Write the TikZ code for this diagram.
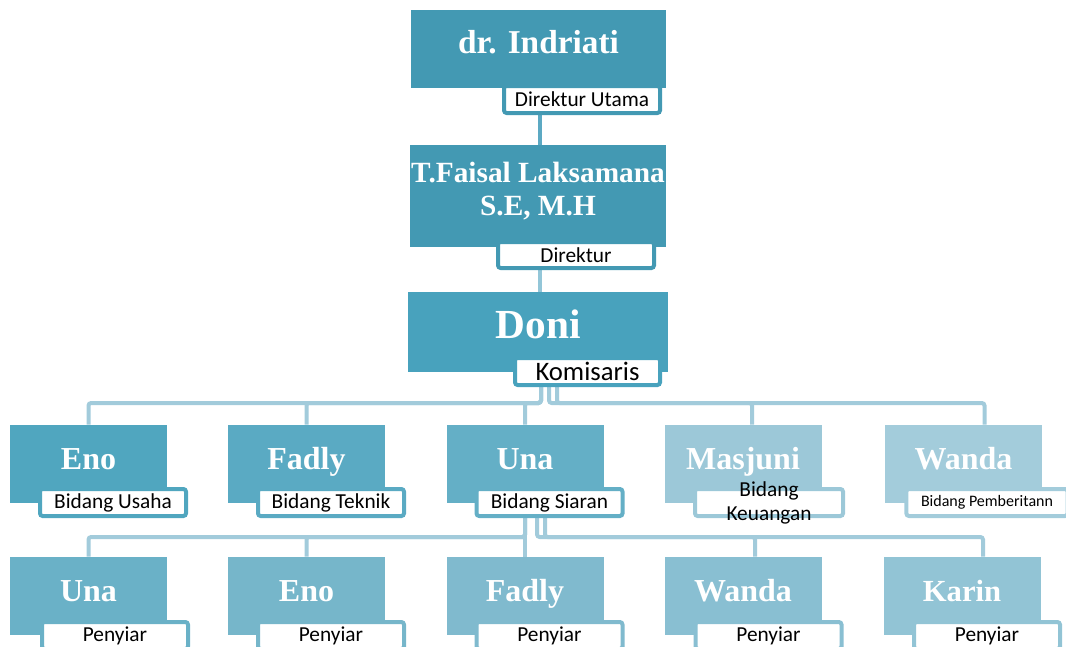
\documentclass[tikz,border=0pt]{standalone}
\usepackage{fontspec}
\setmainfont{Liberation Serif}
\newfontfamily\lblfont{Carlito}
\usetikzlibrary{calc}

\definecolor{boxA}{HTML}{4399B3}
\definecolor{boxB}{HTML}{48A2BD}
\definecolor{boxC}{HTML}{50A6BF}
\definecolor{boxD}{HTML}{5AAAC3}
\definecolor{boxE}{HTML}{64AFC6}
\definecolor{boxF}{HTML}{9CC8D8}
\definecolor{boxG}{HTML}{A3CCDB}
\definecolor{boxH}{HTML}{6AB1C7}
\definecolor{boxI}{HTML}{76B6CA}
\definecolor{boxJ}{HTML}{80BACE}
\definecolor{boxK}{HTML}{89BFD2}
\definecolor{boxL}{HTML}{92C4D5}
\definecolor{linkA}{HTML}{5CA9C3}
\definecolor{linkB}{HTML}{93C6D8}
\definecolor{linkC}{HTML}{A2CBDB}

\tikzset{
  pbox/.style={rectangle, minimum width=117.75pt, minimum height=58.5pt, inner sep=0pt},
  pname/.style={text=white, font=\bfseries\fontsize{24pt}{28pt}\selectfont, inner sep=0pt, text height=0.7em, text depth=0.2em},
  plabel/.style={rectangle, line width=3pt, rounded corners=2pt, fill=white, minimum width=109.5pt, minimum height=20.25pt, inner sep=0pt, font=\lblfont\fontsize{16pt}{19pt}\selectfont},
  plink/.style={draw=linkC, line width=3pt, rounded corners=2pt},
}

\begin{document}
\begin{tikzpicture}[x=0.75pt, y=-0.75pt]
		%%%%% START %%%%%
		\useasboundingbox (0,0) rectangle (1066,646);
		\clip (0,0) rectangle (1066,646);

		% pimpinan
		\node[pbox, fill=boxA, minimum width=191.25pt, minimum height=58.5pt] (indriati) at (538.5,49) {};
		\node[pbox, fill=boxA, minimum width=192pt, minimum height=76.5pt] (faisal) at (538,196) {};
		\node[pbox, fill=boxB, minimum width=195pt, minimum height=60pt] (doni) at (538,332) {};

		% bidang
		\node[pbox, fill=boxC] (eno) at (88.5,464) {};
		\node[pbox, fill=boxD] (fadly) at (306.5,464) {};
		\node[pbox, fill=boxE] (una) at (525,464) {};
		\node[pbox, fill=boxF] (masjuni) at (743,464) {};
		\node[pbox, fill=boxG] (wanda) at (963.5,464) {};

		% penyiar
		\node[pbox, fill=boxH] (unab) at (88.5,596) {};
		\node[pbox, fill=boxI] (enob) at (306.5,596) {};
		\node[pbox, fill=boxJ] (fadlyb) at (525,596) {};
		\node[pbox, fill=boxK] (wandab) at (743,596) {};
		\node[pbox, fill=boxL] (karin) at (962,596) {};

		% names
		\node[pname, font=\bfseries\fontsize{25pt}{30pt}\selectfont] (indriatiname) at ($(indriati.center)+(0,1)$) {dr. Indriati};
		\node[text=white, inner sep=0pt, align=center, font=\bfseries\fontsize{22pt}{25pt}\selectfont] (faisalname) at ($(faisal.center)+(0,-5)$) {T.Faisal Laksamana\\S.E, M.H};
		\node[pname, font=\bfseries\fontsize{31pt}{36pt}\selectfont] (doniname) at ($(doni.center)+(0,3)$) {Doni};
		\node[pname] (enoname) at ($(eno.center)+(0,2)$) {Eno};
		\node[pname] (fadlyname) at ($(fadly.center)+(0,2)$) {Fadly};
		\node[pname] (unaname) at ($(una.center)+(0,2)$) {Una};
		\node[pname] (masjuniname) at ($(masjuni.center)+(0,2)$) {Masjuni};
		\node[pname] (wandaname) at ($(wanda.center)+(0,2)$) {Wanda};
		\node[pname] (unabname) at ($(unab.center)+(0,2)$) {Una};
		\node[pname] (enobname) at ($(enob.center)+(0,2)$) {Eno};
		\node[pname] (fadlybname) at ($(fadlyb.center)+(0,2)$) {Fadly};
		\node[pname] (wandabname) at ($(wandab.center)+(0,2)$) {Wanda};
		\node[pname, font=\bfseries\fontsize{23pt}{28pt}\selectfont] (karinname) at ($(karin.center)+(0,2)$) {Karin};

		% connectors
		\draw[plink, draw=linkA] ($(indriati.south)+(1.5,0)$) -- ($(faisal.north)+(2,0)$);
		\draw[plink, draw=linkB] ($(faisal.south)+(2,0)$) -- ($(doni.north)+(2,0)$);

		\coordinate (busA) at (0,403);
		\coordinate (busB) at (0,537);
		\coordinate (masjunitop) at ($(masjuni.north)+(9,0)$);
		\coordinate (wandatop) at ($(wanda.north)+(21,0)$);
		\draw[plink] ($(doni.south)+(3,0)$) |- (eno.north |- busA) -- (eno.north);
		\draw[plink] ($(doni.south)+(3,0)$) |- (fadly.north |- busA) -- (fadly.north);
		\draw[plink] ($(doni.south)+(3,0)$) |- (una.north |- busA) -- (una.north);
		\draw[plink] ($(doni.south)+(11,0)$) |- (masjunitop |- busA) -- (masjunitop);
		\draw[plink] ($(doni.south)+(19,0)$) |- (wandatop |- busA) -- (wandatop);

		\coordinate (wandabtop) at ($(wandab.north)+(12,0)$);
		\coordinate (karintop) at ($(karin.north)+(21,0)$);
		\draw[plink] (una.south) |- (unab.north |- busB) -- (unab.north);
		\draw[plink] (una.south) |- (enob.north |- busB) -- (enob.north);
		\draw[plink] (una.south) -- (fadlyb.north);
		\draw[plink] ($(una.south)+(12,0)$) |- (wandabtop |- busB) -- (wandabtop);
		\draw[plink] ($(una.south)+(20,0)$) |- (karintop |- busB) -- (karintop);

		% jabatan
		\node[plabel, draw=boxA, minimum width=117pt] (indriatilab) at (582,99.5) {Direktur Utama};
		\node[plabel, draw=boxA, minimum width=117pt, minimum height=19.5pt] (faisallab) at (576,255) {Direktur};
		\node[plabel, draw=boxB, minimum width=108.75pt, font=\lblfont\fontsize{20pt}{24pt}\selectfont] (donilab) at (587.5,371.5) {Komisaris};

		\node[plabel, draw=boxC] (enolab) at (113,502.5) {Bidang Usaha};
		\node[plabel, draw=boxD] (fadlylab) at (331,502.5) {Bidang Teknik};
		\node[plabel, draw=boxE] (unalab) at (549.5,502.5) {Bidang Siaran};
		\node[plabel, draw=boxF, minimum width=111pt] (masjunilab) at (769,502.5) {};
		\node[align=center, inner sep=0pt, font=\lblfont\fontsize{16pt}{18pt}\selectfont] (masjunitext) at (masjunilab.center) {Bidang\\Keuangan};
		\node[plabel, draw=boxG, minimum width=121pt, font=\lblfont\fontsize{12pt}{14pt}\selectfont] (wandalab) at (987,502.5) {Bidang Pemberitann};

		\node[plabel, draw=boxH] (unablab) at (115,635.5) {Penyiar};
		\node[plabel, draw=boxI] (enoblab) at (331,635.5) {Penyiar};
		\node[plabel, draw=boxJ] (fadlyblab) at (549.5,635.5) {Penyiar};
		\node[plabel, draw=boxK] (wandablab) at (768.5,635.5) {Penyiar};
		\node[plabel, draw=boxL] (karinlab) at (987,635.5) {Penyiar};

		%%%%% END %%%%%
\end{tikzpicture}
\end{document}
